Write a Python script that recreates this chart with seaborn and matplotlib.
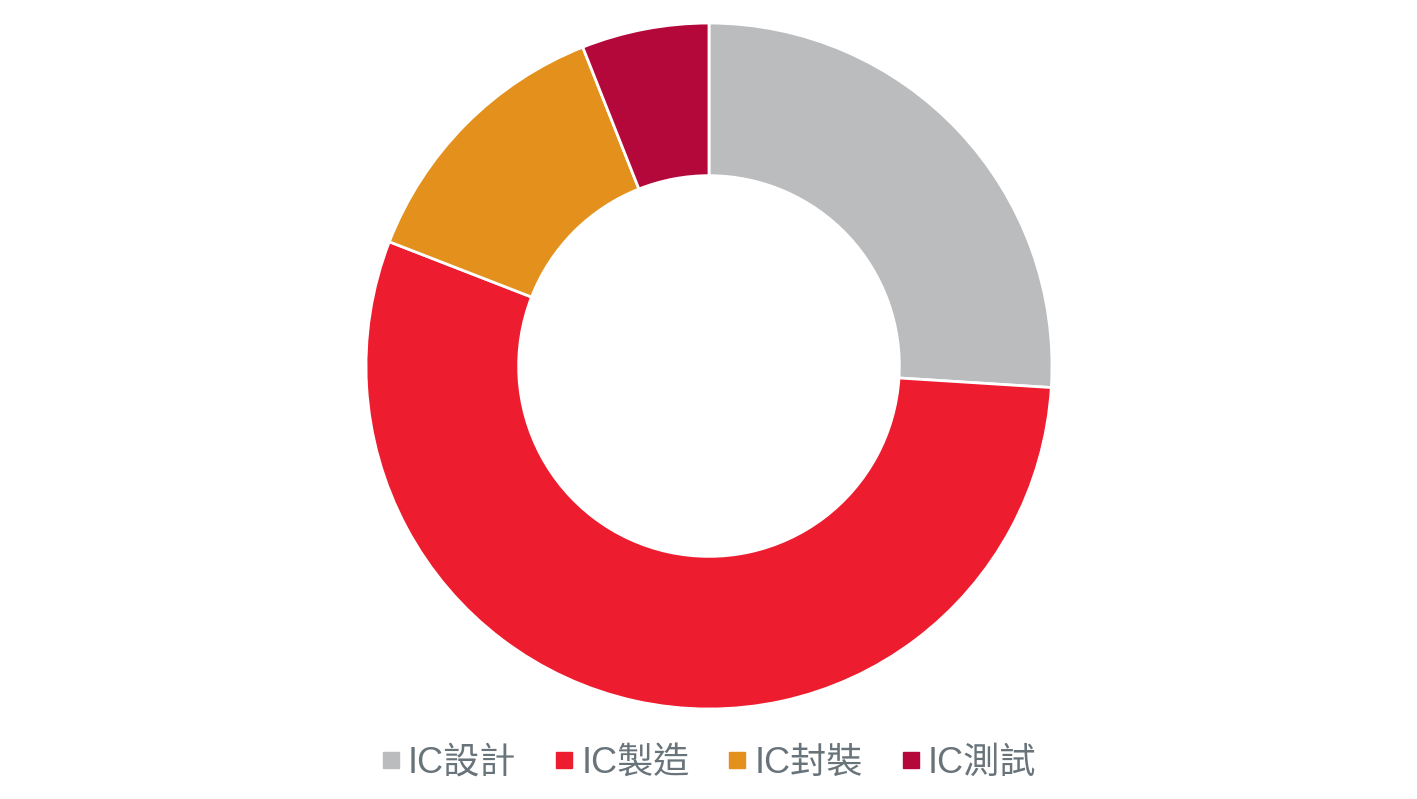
import matplotlib
matplotlib.use("Agg")
import matplotlib.pyplot as plt
import seaborn as sns
from matplotlib.lines import Line2D

# IC industry share (%)
labels = ["IC設計", "IC製造", "IC封裝", "IC測試"]
values = [26.0, 54.9, 13.1, 6.0]
colors = ["#BBBCBE", "#ED1C2E", "#E3901C", "#B5083A"]

sns.set_theme(style="white")
plt.rcParams['font.family'] = ['Liberation Sans', 'Noto Sans CJK TC', 'DejaVu Sans']

fig = plt.figure(figsize=(14.17, 7.99), dpi=100)
ax = fig.add_axes([0.2583, 0.1126, 0.4841, 0.8586])

wedges, _ = ax.pie(values, colors=sns.color_palette(colors), startangle=90,
                   counterclock=False, radius=1.0,
                   wedgeprops=dict(width=0.445, edgecolor="white", linewidth=2))
ax.set_xlim(-1, 1)
ax.set_ylim(-1, 1)
ax.axis("off")

handles = [Line2D([], [], marker="s", linestyle="", markersize=12,
                  markerfacecolor=c, markeredgecolor=c) for c in colors]
leg = fig.legend(handles, labels, loc="center", bbox_to_anchor=(0.5, 0.045),
                 ncol=4, frameon=False, fontsize=26, handlelength=0.55,
                 handletextpad=0.2, columnspacing=1.05, borderaxespad=0)
for t in leg.get_texts():
    t.set_color("#68737A")

fig.savefig("out.png", dpi=100)
